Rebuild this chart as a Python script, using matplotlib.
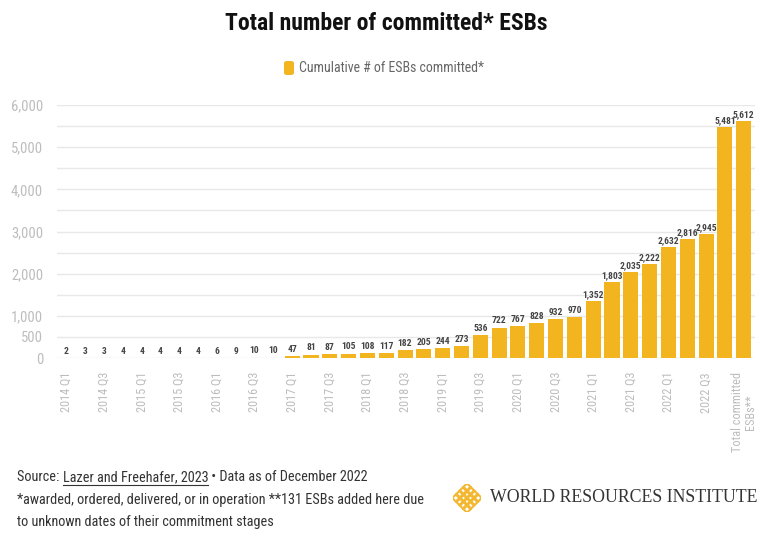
import numpy as np
import matplotlib
matplotlib.use('Agg')
import matplotlib.pyplot as plt
from matplotlib.lines import Line2D
from matplotlib.patches import FancyBboxPatch

# Data
quarters = [f'{y} Q{q}' for y in range(2014, 2023) for q in range(1, 5)]
categories = quarters + ['Total committed\nESBs**']
values = [2, 3, 3, 4,
          4, 4, 4, 4,
          6, 9, 10, 10,
          47, 81, 87, 105,
          108, 117, 182, 205,
          244, 273, 536, 722,
          767, 828, 932, 970,
          1352, 1803, 2035, 2222,
          2632, 2816, 2945, 5481,
          5612]
ytick_vals = list(range(0, 6001, 500))
ytick_labels = ['0', '500', '1,000', '', '2,000', '', '3,000', '', '4,000', '', '5,000', '', '6,000']

plt.rcParams['font.family'] = ['Roboto Condensed', 'Roboto', 'DejaVu Sans']

bar_color = '#F2B41F'
grey = '#BDBDBD'
dark = '#333333'

fig = plt.figure(figsize=(7.73, 5.34), dpi=100)
ax = fig.add_axes([57 / 773, 1 - 358 / 534, 698 / 773, (358 - 105) / 534])

x = np.arange(len(values))
ax.bar(x, values, width=0.8, color=bar_color, zorder=2)

for xi, v in zip(x, values):
    ax.text(xi, v + 50, f'{v:,}', ha='center', va='bottom', fontsize=6.8,
            fontweight='bold', color='#444444', clip_on=False)

ax.set_xlim(-0.5, 36.6)
ax.set_ylim(0, 6000)
ax.set_yticks(ytick_vals)
ax.set_yticklabels(ytick_labels, fontsize=10.5, color=grey)
ax.grid(axis='y', color='#E8E8E8', linewidth=1, zorder=0)
ax.tick_params(axis='y', length=0, pad=10)

tick_pos = list(range(0, 36, 2)) + [36]
ax.set_xticks(tick_pos)
ax.set_xticklabels([categories[i] for i in tick_pos], rotation=90, fontsize=8.8,
                   color=grey, linespacing=1.0)
ax.tick_params(axis='x', length=0, pad=10)
for s in ax.spines.values():
    s.set_visible(False)

# Title and legend
fig.text(0.5, 1 - 23 / 534, 'Total number of committed* ESBs', ha='center', va='center',
         fontsize=17, fontweight='bold', color='#111111')
fig.patches.append(FancyBboxPatch(
    (284 / 773, 1 - 75 / 534), 10 / 773, 14 / 534, boxstyle='round,pad=0,rounding_size=0.004',
    transform=fig.transFigure, facecolor=bar_color, edgecolor='none'))
fig.text(299 / 773, 1 - 68 / 534, 'Cumulative # of ESBs committed*', ha='left', va='center',
         fontsize=10, color='#666666')

# Footer
fig.canvas.draw()
renderer = fig.canvas.get_renderer()
fs = 10.3
y_src = 1 - 477 / 534
t1 = fig.text(17 / 773, y_src, 'Source: ', ha='left', va='center', fontsize=fs, color=dark)
bb1 = t1.get_window_extent(renderer)
t2 = fig.text(bb1.x1 / fig.bbox.width, y_src, 'Lazer and Freehafer, 2023', ha='left', va='center',
              fontsize=fs, color=dark)
bb2 = t2.get_window_extent(renderer)
fig.add_artist(Line2D([bb2.x0 / fig.bbox.width, bb2.x1 / fig.bbox.width],
                      [(bb2.y0 - 0.5) / fig.bbox.height] * 2, color=dark, linewidth=0.8,
                      transform=fig.transFigure))
fig.text(bb2.x1 / fig.bbox.width, y_src, ' \u2022 Data as of December 2022', ha='left', va='center',
         fontsize=fs, color=dark)
fig.text(17 / 773, 1 - 500 / 534, '*awarded, ordered, delivered, or in operation **131 ESBs added here due',
         ha='left', va='center', fontsize=fs, color=dark)
fig.text(17 / 773, 1 - 522 / 534, 'to unknown dates of their commitment stages',
         ha='left', va='center', fontsize=fs, color=dark)

# WRI logo
lax = fig.add_axes([453 / 773, 1 - 512 / 534, 28 / 773, 28 / 534])
px = [i - j for i in range(4) for j in range(4)]
py = [i + j - 3 for i in range(4) for j in range(4)]
lax.scatter(px, py, marker='D', s=18, facecolor='none', edgecolor='#F4B731', linewidth=1.5)
lax.set_xlim(-4, 4)
lax.set_ylim(-4, 4)
lax.axis('off')
fig.text(490 / 773, 1 - 498 / 534, 'WORLD RESOURCES INSTITUTE', ha='left', va='center',
         fontsize=12.8, family=['Liberation Serif', 'DejaVu Serif'], color=dark)

fig.savefig('out.png', dpi=100)
